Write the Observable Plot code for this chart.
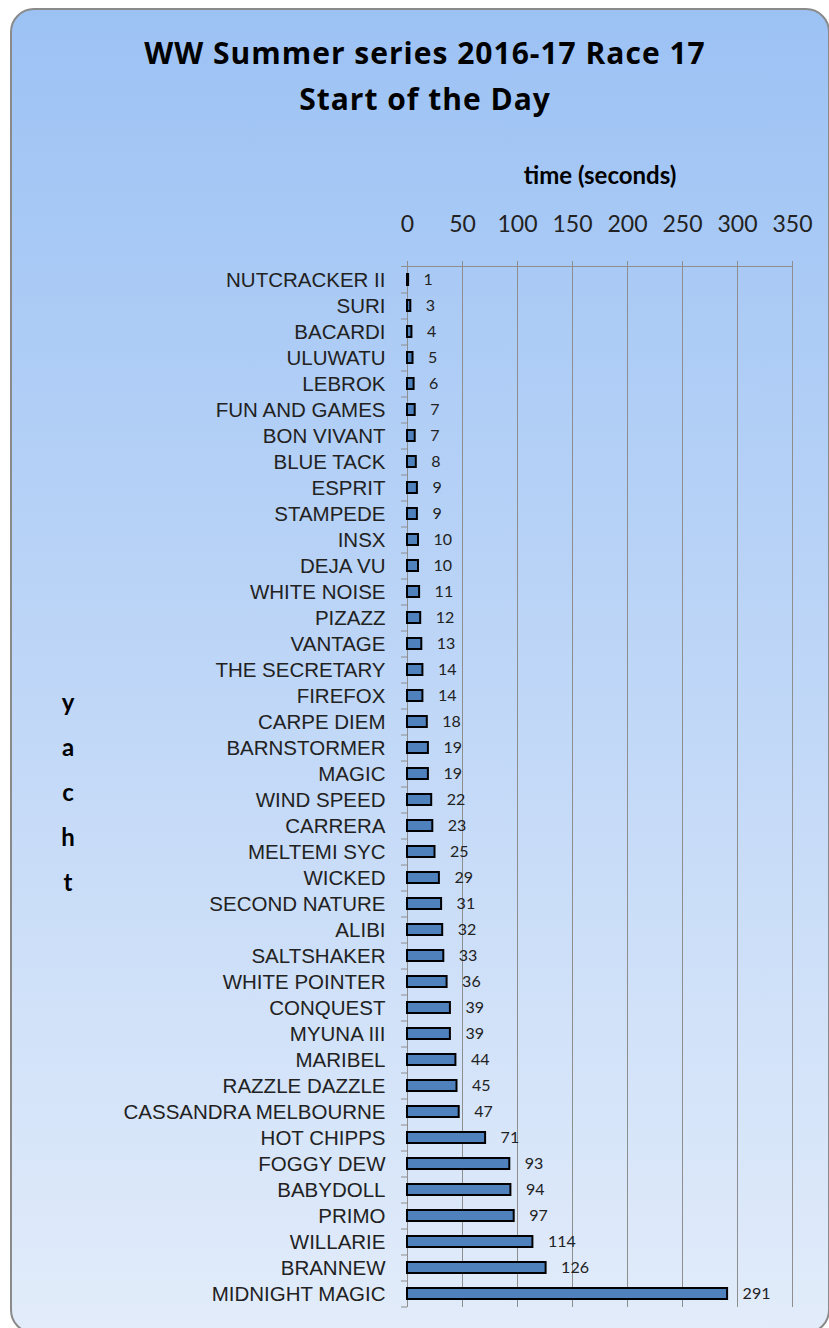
<!DOCTYPE html>
<html>
<head>
<meta charset="utf-8">
<script src="https://cdn.jsdelivr.net/npm/d3@7"></script>
<script src="https://cdn.jsdelivr.net/npm/@observablehq/plot@0.6"></script>
<style>
  html, body { margin: 0; padding: 0; background: #fff; width: 829px; height: 1328px; overflow: hidden; }
  #panel {
    position: absolute; left: 10px; top: 8px; width: 820px; height: 1326px;
    box-sizing: border-box; border: 2px solid #8a8a8a; border-radius: 24px;
    background: linear-gradient(to bottom, #9cc2f4 0%, #bed6f7 50%, #e2ecfa 100%);
  }
  #title {
    position: absolute; left: 0; top: 30px; width: 850px; text-align: center;
    font-family: "Open Sans", Lato, sans-serif; font-weight: bold; font-size: 30px;
    letter-spacing: 1px; line-height: 46px; color: #000;
  }
  #ylab {
    position: absolute; left: 58px; top: 679px; width: 20px; text-align: center;
    font-family: Lato, sans-serif; font-weight: bold; font-size: 24px; line-height: 45px; color: #000;
  }
  #chart { position: absolute; left: 0; top: 140px; }
  #chart svg { background: transparent; overflow: visible; }
</style>
</head>
<body>
<div id="panel"></div>
<div id="title">WW Summer series 2016-17 Race 17<br>Start of the Day</div>
<div id="ylab">y<br>a<br>c<br>h<br>t</div>
<div id="chart"></div>
<script>
const yachts = ["NUTCRACKER II","SURI","BACARDI","ULUWATU","LEBROK","FUN AND GAMES","BON VIVANT","BLUE TACK","ESPRIT","STAMPEDE","INSX","DEJA VU","WHITE NOISE","PIZAZZ","VANTAGE","THE SECRETARY","FIREFOX","CARPE DIEM","BARNSTORMER","MAGIC","WIND SPEED","CARRERA","MELTEMI SYC","WICKED","SECOND NATURE","ALIBI","SALTSHAKER","WHITE POINTER","CONQUEST","MYUNA III","MARIBEL","RAZZLE DAZZLE","CASSANDRA MELBOURNE","HOT CHIPPS","FOGGY DEW","BABYDOLL","PRIMO","WILLARIE","BRANNEW","MIDNIGHT MAGIC"];
const times = [1,3,4,5,6,7,7,8,9,9,10,10,11,12,13,14,14,18,19,19,22,23,25,29,31,32,33,36,39,39,44,45,47,71,93,94,97,114,126,291];
const xTicks = [0,50,100,150,200,250,300,350];

const data = yachts.map((y, i) => ({yacht: y, time: times[i]}));
const grid = "#8e8e8e";

const chart = Plot.plot({
  width: 829,
  height: 1188,
  marginLeft: 407,
  marginRight: 37,
  marginTop: 126,
  marginBottom: 21,
  style: {background: "transparent", overflow: "visible"},
  x: {domain: [0, 350]},
  y: {domain: yachts, paddingInner: 0.58, paddingOuter: 0.29, label: null},
  marks: [
    Plot.gridX(xTicks, {stroke: grid, strokeOpacity: 1}),
    Plot.frame({anchor: "top", stroke: grid, insetLeft: -6}),
    Plot.ruleX([0], {stroke: grid}),
    Plot.axisX({anchor: "top", ticks: xTicks, tickSize: 6, tickPadding: 29, stroke: grid,
      fontSize: 23, fontFamily: "Lato, sans-serif", fill: "#222",
      label: "time (seconds)", labelAnchor: "center", labelArrow: "none", labelOffset: 100}),
    Plot.axisY({tickSize: 6, tickFormat: () => "", dy: 13, stroke: grid, label: null}),
    Plot.axisY({tickSize: 0, tickPadding: 22, fontSize: 20.5, fontFamily: "'Liberation Sans', Arial, sans-serif",
      fill: "#222", label: null, letterSpacing: "1.3px"}),
    Plot.barX(data, {x: "time", y: "yacht", fill: "#4f81bd", stroke: "#000", strokeWidth: 2}),
    Plot.text(data, {x: "time", y: "yacht", text: d => String(d.time), textAnchor: "start", dx: 15,
      fontSize: 16, fontFamily: "Lato, sans-serif", fill: "#222"})
  ]
});
document.getElementById("chart").appendChild(chart);
chart.querySelectorAll('[aria-label="x-axis label"]').forEach(g => {
  g.setAttribute("font-weight", "bold");
  g.setAttribute("font-size", "24");
  g.setAttribute("font-family", "Lato, sans-serif");
  g.setAttribute("fill", "#000");
});
</script>
</body>
</html>
